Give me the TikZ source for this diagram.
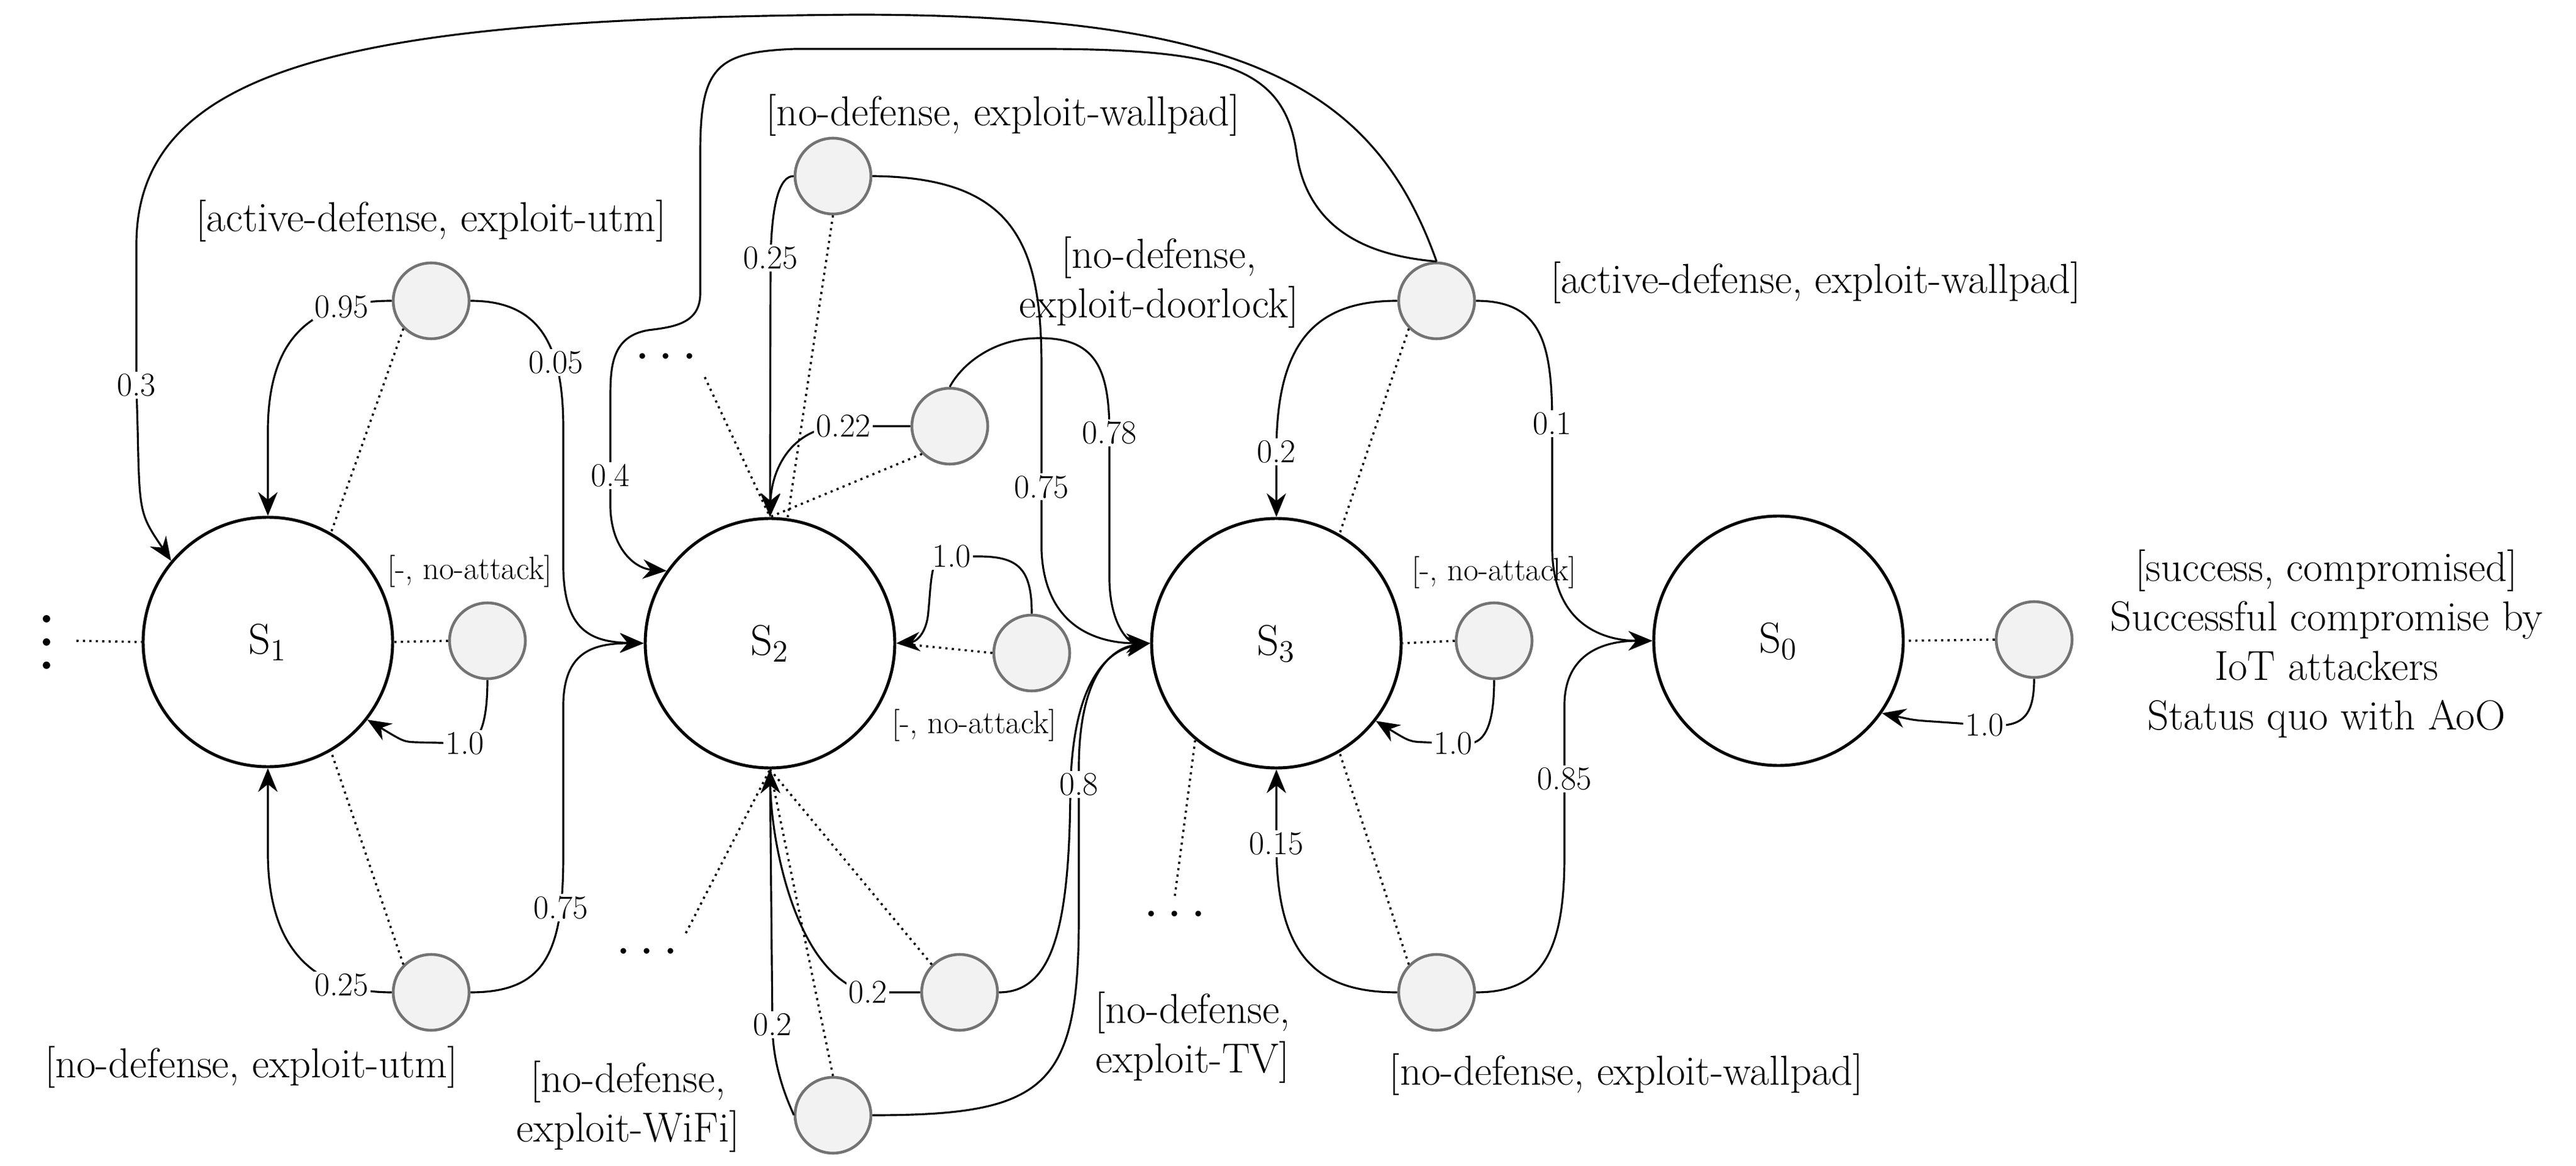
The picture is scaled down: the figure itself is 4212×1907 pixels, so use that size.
\documentclass[tikz,border=0pt]{standalone}
\usetikzlibrary{arrows.meta,positioning}

\begin{document}
\begin{tikzpicture}
  [x=0.1mm,y=-0.1mm,>={Stealth[length=11pt,width=9pt]},
  state/.style={circle,draw,line width=1.4pt,minimum size=40.8mm,inner sep=0pt,font=\fontsize{20}{24}\selectfont},
  act/.style={circle,draw=black!55,line width=1.3pt,fill=black!5,minimum size=12.4mm,inner sep=0pt},
  prob/.style={fill=white,inner sep=1pt,font=\fontsize{15.5}{18}\selectfont},
  tag/.style={align=center,font=\fontsize{19.5}{23}\selectfont},
  small tag/.style={font=\fontsize{15}{18}\selectfont},
  more/.style={font=\fontsize{28}{30}\selectfont\bfseries},
  trans/.style={->,line width=0.9pt},
  link/.style={dotted,line width=1pt}]
  \useasboundingbox (0,0) rectangle (4212,1907);

  % states
  \node [state] (s1) at (438,1050) {S$_1$};
  \node [state] (s2) at (1259,1052) {S$_2$};
  \node [state] (s3) at (2087,1052) {S$_3$};
  \node [state] (s0) at (2908,1048) {S$_0$};

  % actions
  \node [act] (a1) at (705,492) {};
  \node [act] (n1) at (797,1048) {};
  \node [act] (d1) at (705,1623) {};
  \node [act] (w2) at (1362,288) {};
  \node [act] (k2) at (1553,697) {};
  \node [act] (n2) at (1687,1068) {};
  \node [act] (t2) at (1569,1623) {};
  \node [act] (f2) at (1362,1824) {};
  \node [act] (a3) at (2349,492) {};
  \node [act] (n3) at (2443,1048) {};
  \node [act] (d3) at (2349,1623) {};
  \node [act] (n0) at (3326,1046) {};

  % texts
  \node [tag] at (705,361) {[active-defense, exploit-utm]};
  \node [small tag] at (768,934) {[-, no-attack]};
  \node [tag] at (411,1745) {[no-defense, exploit-utm]};
  \node [tag] at (1640,188) {[no-defense, exploit-wallpad]};
  \node [tag] at (1895,462) {[no-defense,\\exploit-doorlock]};
  \node [small tag] at (1593,1186) {[-, no-attack]};
  \node [tag] at (1027,1810) {[no-defense,\\exploit-WiFi]};
  \node [tag] at (1950,1697) {[no-defense,\\exploit-TV]};
  \node [tag] at (2969,462) {[active-defense, exploit-wallpad]};
  \node [small tag] at (2443,936) {[-, no-attack]};
  \node [tag] at (2659,1757) {[no-defense, exploit-wallpad]};
  \node [tag] at (3804,1053) {[success, compromised]\\Successful compromise by\\IoT attackers\\Status quo with AoO};

  % other states
  \foreach \y in {1012,1050,1088}
    \fill (76,\y) circle (6);
  \coordinate (v1) at (125,1048);
  \node [more] (u2) at (1089,585) {$\cdots$};
  \node [more] (l2) at (1058,1558) {$\cdots$};
  \node [more] (l3) at (1921,1497) {$\cdots$};
  \draw [link] (v1) -- (s1.west);
  \draw [link] (u2.south east) -- (s2.north);
  \draw [link] (l2.north east) -- (s2.south);
  \draw [link] (l3.north) -- (s3.-130);

  % dotted links
  \draw [link] (a1.south west) -- (s1.60);
  \draw [link] (n1.west) -- (s1.east);
  \draw [link] (d1.north west) -- (s1.-60);
  \draw [link] (w2.south) -- (s2.82);
  \draw [link] (k2.south west) -- (s2.north);
  \draw [link] (n2.west) -- (s2.east);
  \draw [link] (t2.north west) -- (s2.south);
  \draw [link] (f2.north) -- (s2.south);
  \draw [link] (a3.south west) -- (s3.60);
  \draw [link] (n3.west) -- (s3.east);
  \draw [link] (d3.north west) -- (s3.-60);
  \draw [link] (n0.west) -- (s0.east);

  % transitions of S1
  \draw [trans] (a1.west) .. controls (520,492) and (440,540) .. (438,700) node [prob,pos=.25] {0.95} -- (s1.north);
  \draw [trans] (a1.east) .. controls (880,492) and (921,560) .. (921,700) node [prob,pos=.7] {0.05} -- (921,930) .. controls (923,1030) and (965,1050) .. (s2.west);
  \draw [trans] (d1.west) .. controls (520,1623) and (440,1560) .. (438,1400) node [prob,pos=.25] {0.25} -- (s1.south);
  \draw [trans] (d1.east) .. controls (890,1623) and (921,1560) .. (921,1400) node [prob,pos=.8] {0.75} -- (921,1150) .. controls (923,1070) and (965,1052) .. (s2.west);
  \draw [trans] (n1.south) .. controls (797,1180) and (785,1216) .. (760,1216) node [prob] {1.0} -- (680,1214) .. controls (660,1213) .. (s1.-38);

  % transitions of S2
  \draw [trans] (w2.west) .. controls (1275,288) and (1262,330) .. (1260,422) node [prob] {0.25} -- (s2.north);
  \draw [trans] (w2.east) .. controls (1660,290) and (1703,400) .. (1703,600) -- (1703,796) node [prob] {0.75} -- (1703,900) .. controls (1708,1030) and (1800,1052) .. (s3.west);
  \draw [trans] (k2.west) -- (1379,697) node [prob] {0.22} .. controls (1300,697) and (1262,760) .. (s2.north);
  \draw [trans] (k2.north) .. controls (1570,600) and (1620,553) .. (1700,553) .. controls (1790,553) and (1814,600) .. (1814,708) node [prob] {0.78} -- (1814,950) .. controls (1816,1030) and (1850,1052) .. (s3.west);
  \draw [trans] (n2.north) .. controls (1687,930) and (1665,910) .. (1600,910) -- (1556,910) node [prob] {1.0} -- (1540,910) .. controls (1522,912) and (1522,960) .. (1518,1000) .. controls (1515,1040) and (1495,1050) .. (s2.east);
  \draw [trans] (t2.west) -- (1419,1623) node [prob] {0.2} .. controls (1310,1600) and (1262,1400) .. (s2.south);
  \draw [trans] (t2.east) .. controls (1720,1623) and (1748,1520) .. (1750,1300) .. controls (1752,1100) and (1820,1062) .. (s3.west);
  \draw [trans] (f2.west) .. controls (1300,1824) and (1263,1760) .. (1263,1676) node [prob] {0.2} -- (s2.south);
  \draw [trans] (f2.east) .. controls (1710,1824) and (1764,1780) .. (1764,1500) -- (1764,1283) node [prob] {0.8} -- (1764,1250) .. controls (1766,1085) and (1830,1058) .. (s3.west);

  % transitions of S3
  \draw [trans] (a3.west) .. controls (2150,492) and (2087,560) .. (2087,739) node [prob] {0.2} -- (s3.north);
  \draw [trans] (a3.east) .. controls (2520,492) and (2538,560) .. (2538,693) node [prob] {0.1} -- (2538,900) .. controls (2540,1020) and (2620,1048) .. (s0.west);
  \draw [trans] (d3.west) .. controls (2150,1623) and (2087,1560) .. (2087,1380) node [prob] {0.15} -- (s3.south);
  \draw [trans] (d3.east) .. controls (2520,1623) and (2558,1560) .. (2558,1400) -- (2558,1274) node [prob] {0.85} -- (2558,1150) .. controls (2560,1070) and (2620,1048) .. (s0.west);
  \draw [trans] (n3.south) .. controls (2443,1180) and (2430,1216) .. (2400,1216) -- (2376,1216) node [prob] {1.0} -- (2330,1214) .. controls (2305,1213) .. (s3.-38);
  \draw [trans] (a3.north) .. controls (2250,150) and (2050,24) .. (1400,24) .. controls (600,30) and (223,100) .. (223,400) -- (223,630) node [prob] {0.3} -- (225,700) .. controls (228,840) .. (s1.140);
  \draw [trans] (a3.north) .. controls (2260,420) and (2140,390) .. (2120,250) .. controls (2100,110) and (2000,80) .. (1700,80) -- (1300,80) .. controls (1170,85) and (1145,110) .. (1145,250) -- (1145,480) .. controls (1145,530) and (1100,535) .. (1060,540) .. controls (1000,550) and (998,600) .. (998,650) -- (998,778) node [prob] {0.4} -- (998,830) .. controls (1000,900) and (1040,930) .. (s2.145);

  % transition of S0
  \draw [trans] (n0.south) .. controls (3326,1180) and (3300,1190) .. (3245,1186) node [prob] {1.0} -- (3160,1180) .. controls (3130,1178) .. (s0.-35);
\end{tikzpicture}
\end{document}
